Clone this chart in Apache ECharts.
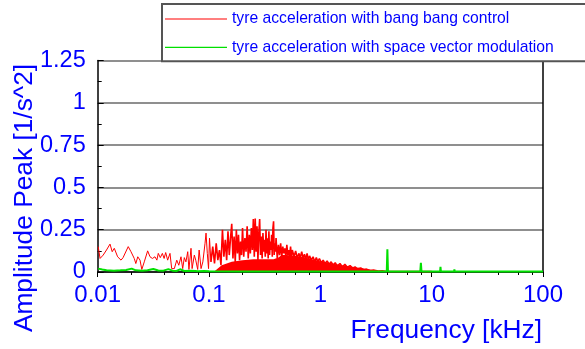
<!DOCTYPE html>
<html>
<head>
<meta charset="utf-8">
<script src="https://cdn.jsdelivr.net/npm/echarts@6/dist/echarts.min.js"></script>
<style>html,body{margin:0;padding:0;background:#fff}#c{width:585px;height:349px}</style>
</head>
<body>
<div id="c"></div>
<script>
// ---- data ----
const seriesNames = ['tyre acceleration with bang bang control', 'tyre acceleration with space vector modulation'];
const xTickLabels = ['0.01', '0.1', '1', '10', '100'];
const yTickLabels = ['0', '0.25', '0.5', '0.75', '1', '1.25'];
const xMinorTicks = [0.02,0.04,0.06,0.08,0.2,0.4,0.6,0.8,2,4,6,8,20,40,60,80];

// red: bang bang control, sparse low-frequency part (kHz, 1/s^2)
const redLowFreq = [
0.0101,0.0105,0.0112,0.0120,0.0129,0.0135,0.0141,0.0146,0.0151,0.0156,0.0162,0.0169,0.0176,0.0188,0.0199,0.0206,0.0213,0.0220,0.0229,0.0240,
0.0249,0.0262,0.0281,0.0295,0.0310,0.0327,0.0340,0.0350,0.0365,0.0381,0.0395,0.0408,0.0425,0.0446,0.0462,0.0488,0.0513,0.0535,0.0560,0.0580,
0.0600,0.0620,0.0644,0.0660,0.0689,0.0705,0.0738,0.0760,0.0791,0.0815,0.0848,0.0880,0.0921,0.0940,0.0965,0.0990,0.1010,0.104
];
const redLowAmp = [
0.15,0.08,0.10,0.13,0.165,0.12,0.14,0.13,0.09,0.10,0.07,0.085,0.08,0.15,0.12,0.13,0.08,0.05,0.09,0.07,
0.015,0.06,0.125,0.09,0.08,0.09,0.07,0.11,0.085,0.11,0.08,0.115,0.07,0.11,0.02,0.02,0.07,0.04,0.09,0.02,
0.085,0.06,0.12,0.015,0.14,0.02,0.10,0.07,0.015,0.13,0.02,0.06,0.17,0.23,0.11,0.02,0.20,0.06
];
// red: dense part above 0.1 kHz
const redHighFreq = [
0.104,0.108,0.112,0.116,0.120,0.124,0.128,0.132,0.136,0.140,0.144,0.148,0.152,0.156,0.160,0.164,0.168,0.172,0.176,0.180,0.184,0.188,0.192,0.196,
0.200,0.205,0.210,0.215,0.220,0.225,0.230,0.235,0.240,0.245,0.250,0.255,0.260,0.265,0.270,0.275,0.280,0.285,0.290,0.295,
0.300,0.305,0.310,0.315,0.320,0.325,0.330,0.335,0.340,0.345,0.350,0.355,0.360,0.365,0.370,0.375,0.380,0.385,0.390,0.395,0.400,
0.41,0.42,0.43,0.44,0.45,0.46,0.47,0.48,0.49,0.50,0.51,0.52,0.53,0.54,0.55,0.56,0.58,0.60,0.62,0.64,0.66,0.68,0.70,0.72,0.74,0.76,0.78,0.80,
0.83,0.86,0.89,0.92,0.95,0.98,1.02,1.06,1.10,1.15,1.20,1.25,1.30,1.36,1.42,1.50,1.58,1.66,1.75,1.85,1.95,2.05,2.15,2.30,2.45,2.60,2.80,3.00,3.30,3.60,4.00,6.00,10.0
];
const redHighAmp = [
0.06,0.15,0.05,0.17,0.07,0.13,0.04,0.25,0.09,0.19,0.07,0.24,0.10,0.20,0.285,0.08,0.21,0.06,0.25,0.11,0.22,0.07,0.18,0.10,
0.26,0.09,0.20,0.12,0.27,0.08,0.22,0.11,0.26,0.13,0.313,0.09,0.316,0.12,0.27,0.07,0.23,0.313,0.10,0.21,
0.08,0.23,0.12,0.19,0.09,0.25,0.11,0.20,0.08,0.24,0.10,0.18,0.13,0.22,0.09,0.26,0.30,0.10,0.17,0.12,0.20,
0.08,0.16,0.10,0.17,0.09,0.15,0.11,0.14,0.09,0.16,0.10,0.13,0.09,0.15,0.09,0.13,0.09,0.125,0.08,0.11,0.085,0.12,0.08,0.105,0.075,0.11,0.07,0.095,
0.07,0.09,0.06,0.085,0.06,0.08,0.055,0.07,0.05,0.065,0.045,0.06,0.04,0.055,0.035,0.05,0.03,0.045,0.028,0.038,0.022,0.03,0.017,0.024,0.013,0.017,0.009,0.012,0.006,0.007,0.003,0.003,0.002
];
// red: densely packed lower part (drawn solid in the reference)
const redFillFreq = [0.11,0.13,0.16,0.20,0.25,0.30,0.38,0.42,0.45,0.50,0.60,0.70,0.80,1.0,1.2,1.5,2.0,2.5,3.0,3.5,4.0];
const redFillAmp  = [0.0,0.04,0.06,0.07,0.075,0.075,0.075,0.085,0.10,0.10,0.095,0.088,0.078,0.064,0.054,0.042,0.029,0.019,0.011,0.006,0.002];

// green: space vector modulation
const greenFreq = [
0.0101,0.011,0.012,0.014,0.016,0.018,0.0202,0.022,0.025,0.028,0.0316,0.035,0.039,0.0431,0.047,0.051,0.0549,0.06,0.07,0.08,0.09,0.1,
0.2,0.5,1,2,3.95,4.0,4.05,7.9,8.0,8.1,11.9,12.0,12.1,15.9,16.0,16.1,19.9,20.0,20.2,50,100
];
const greenAmp = [
0.02,0.015,0.01,0.008,0.01,0.012,0.02,0.01,0.008,0.01,0.018,0.009,0.008,0.017,0.008,0.006,0.016,0.006,0.008,0.005,0.006,0.004,
0.003,0.003,0.003,0.003,0.003,0.134,0.003,0.003,0.055,0.003,0.003,0.03,0.003,0.003,0.016,0.003,0.003,0.01,0.003,0.003,0.003
];

const pairs = (xs, ys) => xs.map((x, i) => [x, ys[i]]);
const BLUE = '#0000ff';
const RED = '#ff0000';
const GREEN = '#00e000';
const FONT = 'Liberation Sans, Arial, sans-serif';

const chart = echarts.init(document.getElementById('c'));
chart.setOption({
  animation: false,
  backgroundColor: '#fff',
  grid: { left: 97.7, right: 42, top: 60.5, bottom: 77, containLabel: false },
  legend: {
    orient: 'vertical', left: 162, top: 4, z: 20,
    data: seriesNames,
    icon: 'rect',
    padding: [7, 80, 6, 3], itemGap: 12.3, itemWidth: 62, itemHeight: 1.2,
    backgroundColor: '#fff', borderColor: '#555', borderWidth: 2,
    textStyle: { color: BLUE, fontSize: 15.7, fontFamily: FONT }
  },
  xAxis: [{
    type: 'log', logBase: 10, min: 0.01, max: 100,
    axisLine: { lineStyle: { color: '#000', width: 1.5 } },
    axisTick: { show: true, length: 5, lineStyle: { color: '#000', width: 1 } },
    minorTick: { show: false },
    splitLine: { show: false },
    axisLabel: { color: BLUE, fontSize: 24, fontFamily: FONT, margin: 11,
      formatter: v => { const i = Math.round(Math.log10(v)) + 2; return xTickLabels[i] !== undefined ? xTickLabels[i] : ''; } }
  }, {
    type: 'log', logBase: 10, min: 0.01, max: 100, position: 'bottom',
    axisLine: { show: false },
    axisTick: { show: true, length: 3, customValues: xMinorTicks, lineStyle: { color: '#000', width: 1 } },
    axisLabel: { show: false }, splitLine: { show: false }
  }],
  yAxis: [{
    type: 'value', min: 0, max: 1.25, interval: 0.25,
    axisLine: { show: true, lineStyle: { color: '#000', width: 1.5 } },
    axisTick: { show: true, inside: true, length: 6, lineStyle: { color: '#000' } },
    minorTick: { show: true, splitNumber: 2, length: 4, lineStyle: { color: '#000' } },
    splitLine: { show: true, lineStyle: { color: '#6a6a6a', width: 1.5 } },
    axisLabel: { color: BLUE, fontSize: 23.5, fontFamily: FONT, margin: 12,
      formatter: v => yTickLabels[Math.round(v / 0.25)] }
  }, {
    type: 'value', min: 0, max: 1.25, interval: 0.25, position: 'right',
    axisLine: { show: true, lineStyle: { color: '#000', width: 1.5 } },
    axisTick: { show: false }, axisLabel: { show: false }, splitLine: { show: false }
  }],
  series: [
    { name: seriesNames[0], type: 'line', symbol: 'none', data: pairs(redFillFreq, redFillAmp),
      lineStyle: { width: 0, color: RED }, itemStyle: { color: RED },
      areaStyle: { color: RED, opacity: 1 }, z: 2 },
    { name: seriesNames[0], type: 'line', symbol: 'none', data: pairs(redLowFreq, redLowAmp),
      lineStyle: { width: 1, color: RED }, itemStyle: { color: RED }, z: 3 },
    { name: seriesNames[0], type: 'line', symbol: 'none', data: pairs(redHighFreq, redHighAmp),
      lineStyle: { width: 1.6, color: RED }, itemStyle: { color: RED }, z: 3 },
    { name: seriesNames[1], type: 'line', symbol: 'none', data: pairs(greenFreq, greenAmp),
      lineStyle: { width: 2, color: GREEN }, itemStyle: { color: GREEN }, z: 4 }
  ],
  graphic: [
    { type: 'text', x: 24.5, y: 198, rotation: Math.PI / 2, z: 10,
      style: { text: 'Amplitude Peak [1/s^2]', fill: BLUE, font: '26.3px ' + FONT, textAlign: 'center', textVerticalAlign: 'middle' } },
    { type: 'text', x: 542, y: 330.5, z: 10,
      style: { text: 'Frequency [kHz]', fill: BLUE, font: '26.3px ' + FONT, textAlign: 'right', textVerticalAlign: 'middle' } }
  ]
});
</script>
</body>
</html>
